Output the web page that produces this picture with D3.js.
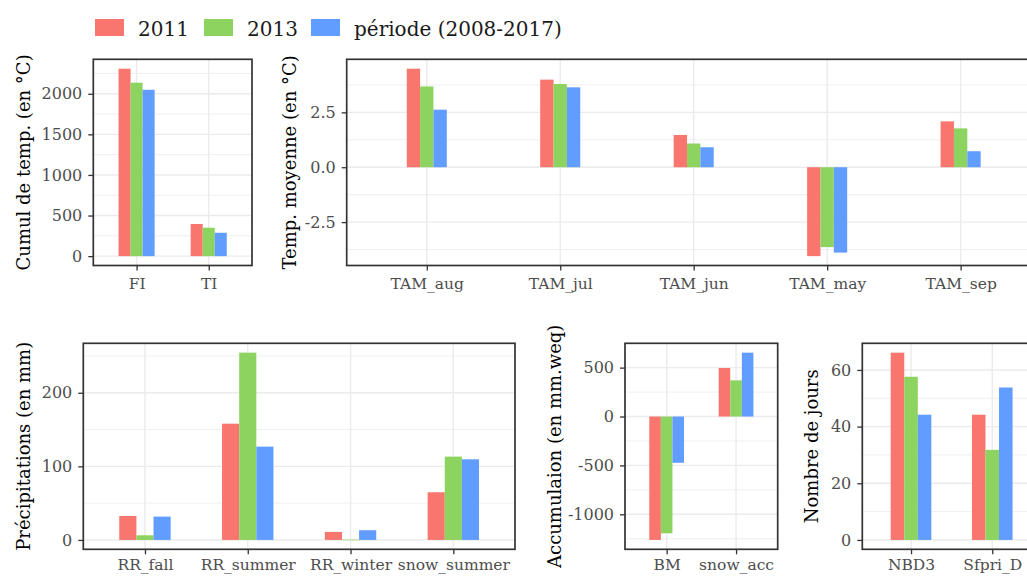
<!DOCTYPE html>
<html>
<head>
<meta charset="utf-8">
<script src="https://cdn.jsdelivr.net/npm/d3@7"></script>
<style>
  html, body { margin: 0; padding: 0; background: #ffffff; }
  svg { display: block; font-family: "DejaVu Serif", serif; }
</style>
</head>
<body>
<svg id="chart" width="1027" height="576"></svg>
<script>
// ---------- DATA ----------
const seriesNames = ["2011", "2013", "période (2008-2017)"];
const seriesColors = ["#F8766D", "#8DD35F", "#619CFF"];

const p1Cats = ["FI", "TI"];
const p1_2011 = [2309, 396];
const p1_2013 = [2136, 350];
const p1_period = [2049, 288];
const p1Ticks = [0, 500, 1000, 1500, 2000];

const p2Cats = ["TAM_aug", "TAM_jul", "TAM_jun", "TAM_may", "TAM_sep"];
const p2_2011 = [4.49, 3.99, 1.47, -4.05, 2.09];
const p2_2013 = [3.68, 3.79, 1.08, -3.64, 1.77];
const p2_period = [2.62, 3.64, 0.91, -3.89, 0.73];
const p2Ticks = [-2.5, 0, 2.5];

const p3Cats = ["RR_fall", "RR_summer", "RR_winter", "snow_summer"];
const p3_2011 = [32.6, 158, 10.9, 64.8];
const p3_2013 = [6.3, 254.5, 0.4, 113.2];
const p3_period = [31.7, 126.8, 13.2, 109.6];
const p3Ticks = [0, 100, 200];

const p4Cats = ["BM", "snow_acc"];
const p4_2011 = [-1262, 496];
const p4_2013 = [-1194, 370];
const p4_period = [-473, 653];
const p4Ticks = [-1000, -500, 0, 500];

const p5Cats = ["NBD3", "Sfpri_D"];
const p5_2011 = [66.1, 44.2];
const p5_2013 = [57.6, 31.8];
const p5_period = [44.2, 53.8];
const p5Ticks = [0, 20, 40, 60];

// ---------- LAYOUT ----------
const svg = d3.select("#chart");
const locale = d3.formatLocale({decimal: ".", thousands: "", grouping: [3], currency: ["", ""], minus: "-"});

const panels = [
  {cats: p1Cats, series: [p1_2011, p1_2013, p1_period], ticks: p1Ticks, fmt: locale.format("d"),
   box: {l: 93.3, r: 252, t: 59.3, b: 265.5}, dodge: 0.5, title: "Cumul de temp. (en °C)", titleX: 29.5, xpad: 7},
  {cats: p2Cats, series: [p2_2011, p2_2013, p2_period], ticks: p2Ticks, fmt: locale.format(".1f"),
   box: {l: 346.7, r: 1040.7, t: 59.3, b: 265.5}, dodge: 0.3, title: "Temp. moyenne (en °C)", titleX: 296, xpad: 7},
  {cats: p3Cats, series: [p3_2011, p3_2013, p3_period], ticks: p3Ticks, fmt: locale.format("d"),
   box: {l: 83.3, r: 515, t: 343.3, b: 549.3}, dodge: 0.5, title: "Précipitations (en mm)", titleX: 30, xpad: 5},
  {cats: p4Cats, series: [p4_2011, p4_2013, p4_period], ticks: p4Ticks, fmt: locale.format("d"),
   box: {l: 625, r: 777.7, t: 343.3, b: 549.3}, dodge: 0.5, title: "Accumulaion (en mm.weq)", titleX: 561, xpad: 5},
  {cats: p5Cats, series: [p5_2011, p5_2013, p5_period], ticks: p5Ticks, fmt: locale.format("d"),
   box: {l: 862.3, r: 1041, t: 343.3, b: 549.3}, dodge: 0.5, title: "Nombre de jours", titleX: 818, xpad: 5}
];

const GRID = "#EBEBEB", BORDER = "#333333", TICKTXT = "#4D4D4D";
const yTickFont = 16, xTickFont = 15.5, titleFont = 18;

panels.forEach(p => {
  const {l, r, t, b} = p.box;
  const all = p.series.flat().concat([0]);
  const mn = d3.min(all), mx = d3.max(all), rng = mx - mn;
  const y = d3.scaleLinear().domain([mn - 0.05 * rng, mx + 0.05 * rng]).range([b, t]);
  const x = d3.scalePoint().domain(p.cats).range([l, r]).padding(0.6);
  const step = x.step();
  const g = svg.append("g");

  // minor grid (midpoints of major ticks)
  const tstep = p.ticks[1] - p.ticks[0];
  const [d0, d1] = y.domain();
  const minor = d3.range(Math.ceil((d0 - tstep / 2) / tstep) * tstep + tstep / 2, d1, tstep)
    .filter(v => v > d0 && v < d1 && !p.ticks.some(tk => Math.abs(tk - v) < 1e-9));
  g.selectAll(".minor").data(minor).join("line")
    .attr("x1", l).attr("x2", r).attr("y1", d => y(d)).attr("y2", d => y(d))
    .attr("stroke", GRID).attr("stroke-width", 0.8);
  // major grid
  g.selectAll(".majY").data(p.ticks).join("line")
    .attr("x1", l).attr("x2", r).attr("y1", d => y(d)).attr("y2", d => y(d))
    .attr("stroke", GRID).attr("stroke-width", 1.4);
  g.selectAll(".majX").data(p.cats).join("line")
    .attr("x1", d => x(d)).attr("x2", d => x(d)).attr("y1", t).attr("y2", b)
    .attr("stroke", GRID).attr("stroke-width", 1.4);

  // bars
  const bw = step * p.dodge / 3;
  p.series.forEach((vals, si) => {
    g.selectAll(".bar" + si).data(vals).join("rect")
      .attr("x", (d, i) => x(p.cats[i]) - step * p.dodge / 2 + si * bw)
      .attr("width", bw)
      .attr("y", d => y(Math.max(0, d)))
      .attr("height", d => Math.max(0.6, Math.abs(y(d) - y(0))))
      .attr("fill", seriesColors[si]);
  });

  // border
  g.append("rect").attr("x", l).attr("y", t).attr("width", r - l).attr("height", b - t)
    .attr("fill", "none").attr("stroke", BORDER).attr("stroke-width", 1.7);

  // axes
  const ay = g.append("g").attr("transform", `translate(${l},0)`)
    .call(d3.axisLeft(y).tickValues(p.ticks).tickFormat(p.fmt).tickSize(5).tickPadding(6));
  const ax = g.append("g").attr("transform", `translate(0,${b})`)
    .call(d3.axisBottom(x).tickSize(5).tickPadding(p.xpad));
  [ay, ax].forEach((a, k) => {
    a.select(".domain").remove();
    a.selectAll(".tick line").attr("stroke", BORDER).attr("stroke-width", 1.3);
    a.selectAll(".tick text").attr("fill", TICKTXT)
      .style("font-size", (k === 0 ? yTickFont : xTickFont) + "px")
      .style("font-family", "'DejaVu Serif', serif");
  });

  // y title
  g.append("text")
    .attr("transform", `translate(${p.titleX},${(t + b) / 2}) rotate(-90)`)
    .attr("text-anchor", "middle")
    .attr("fill", "#000000")
    .style("font-size", titleFont + "px")
    .text(p.title);
});

// legend
const legX = [95, 204, 311];
const leg = svg.append("g");
seriesNames.forEach((name, i) => {
  leg.append("rect").attr("x", legX[i]).attr("y", 19).attr("width", 29).attr("height", 17)
    .attr("fill", seriesColors[i]);
  leg.append("text").attr("x", legX[i] + 43).attr("y", 35.5)
    .attr("fill", "#1a1a1a").style("font-size", "20px").text(name);
});
</script>
</body>
</html>
